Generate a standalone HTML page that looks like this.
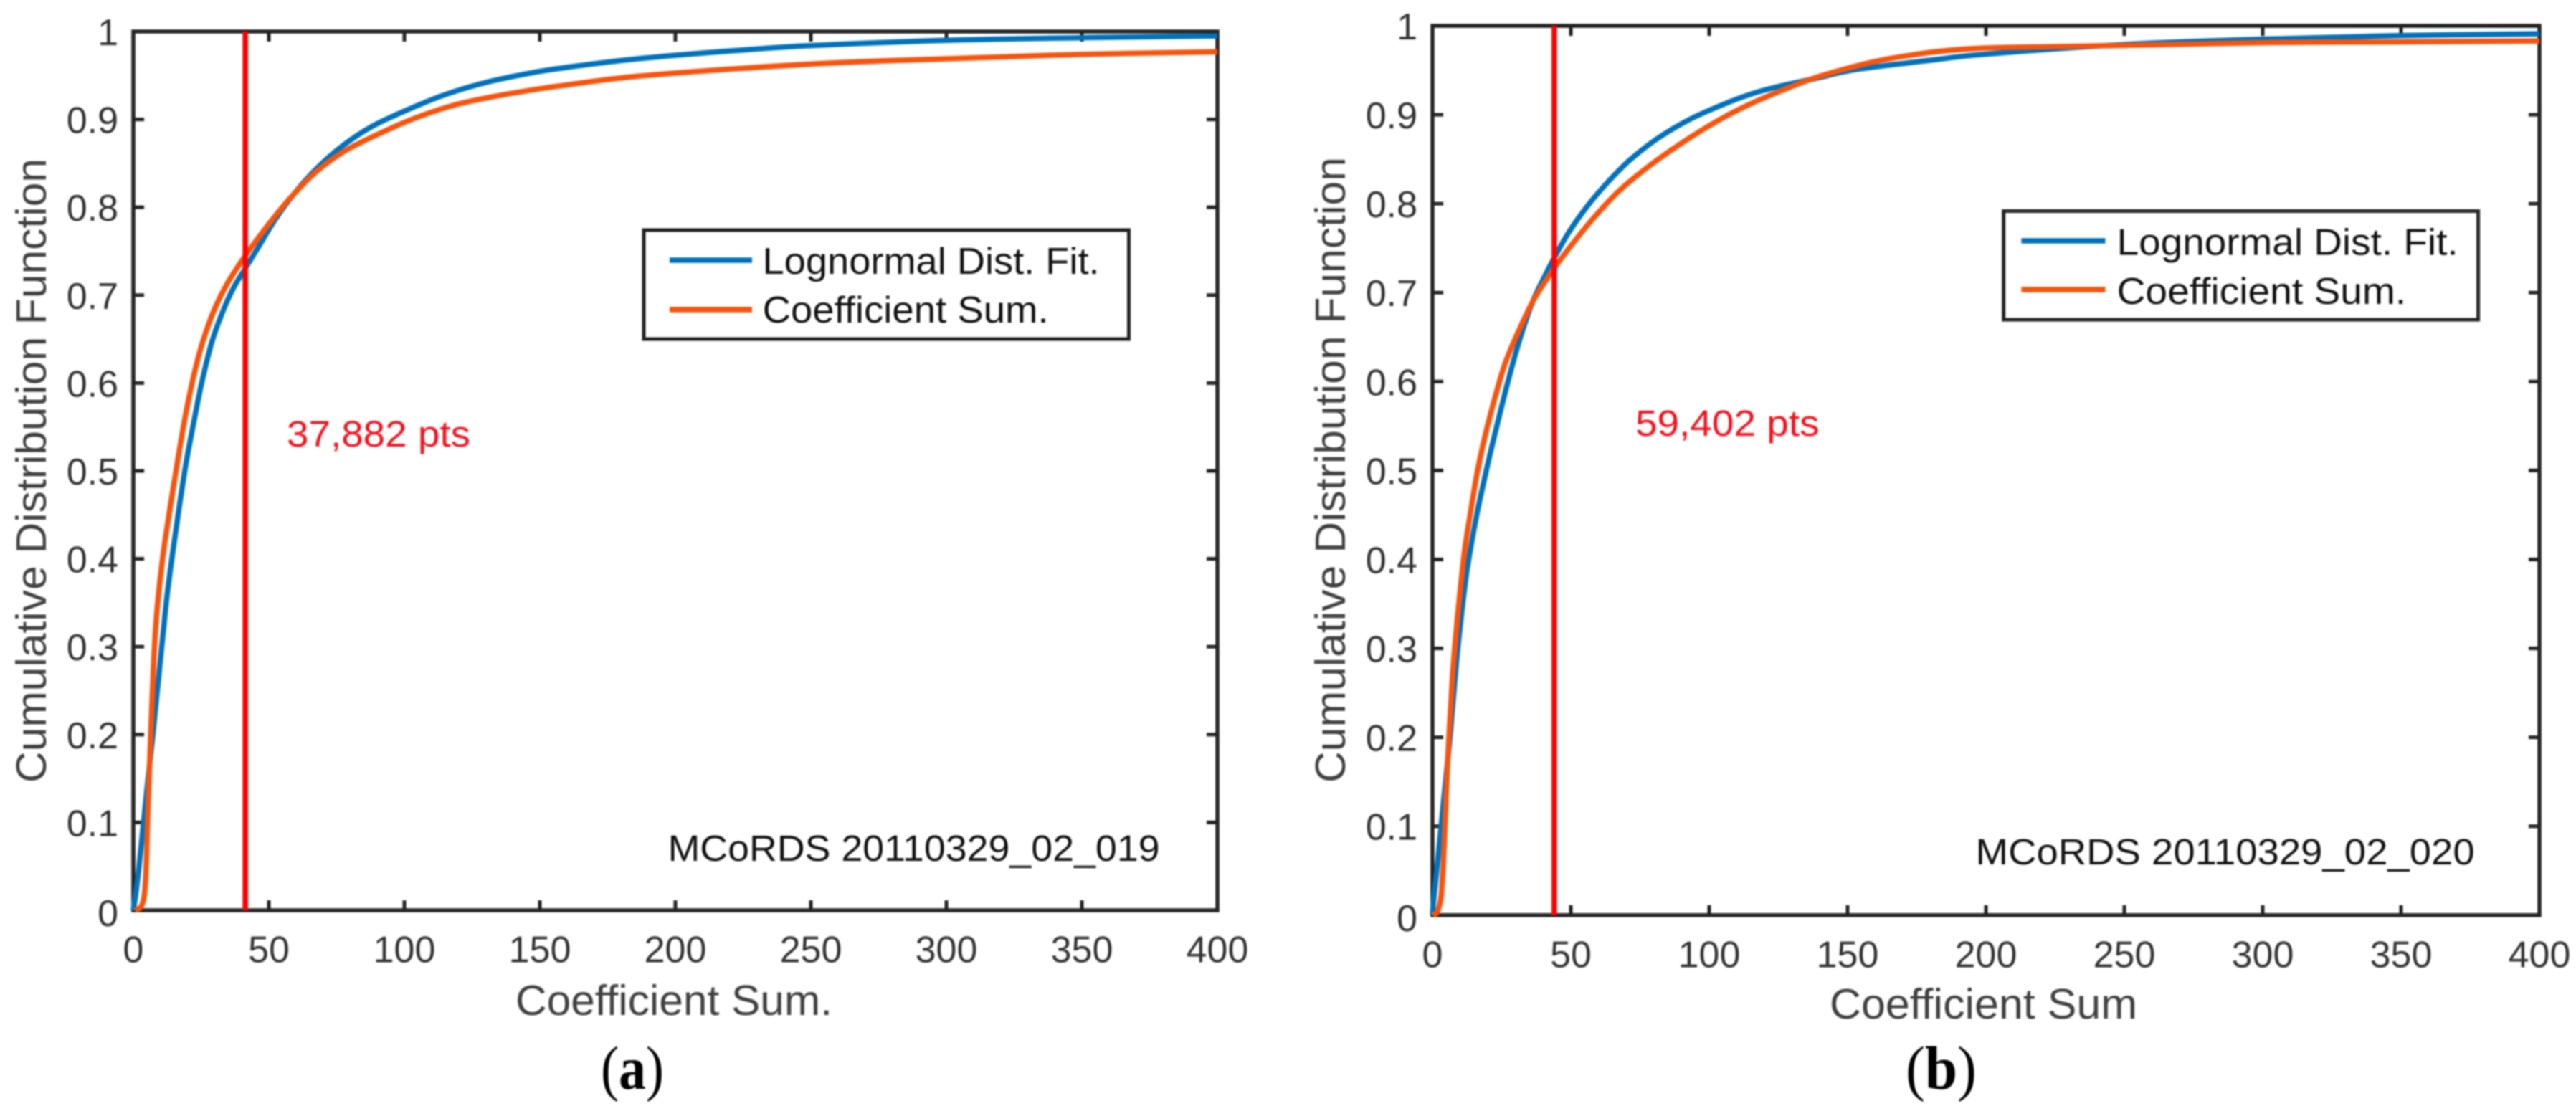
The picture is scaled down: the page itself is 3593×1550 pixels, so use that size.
<!DOCTYPE html>
<html lang="en">
<head>
<meta charset="utf-8">
<title>Cumulative distribution of coefficient sums</title>
<style>
html,body{margin:0;padding:0;background:#fff;width:3593px;height:1550px;overflow:hidden}
svg{display:block;filter:blur(1px)}
text{font-family:"Liberation Sans",sans-serif}
.tick{font-size:52px;fill:#333}
.title{font-size:59px;fill:#404040}
.leg{font-size:52px;fill:#111}
.note{font-size:51px;fill:#111}
.pts{font-size:51px;fill:#f5101c}
.cap{font-family:"Liberation Serif",serif;font-size:86px;fill:#000}
</style>
</head>
<body>
<svg id="figure" xmlns="http://www.w3.org/2000/svg" width="3593" height="1550" viewBox="0 0 3593 1550">
  <defs>
    <clipPath id="clip-a"><rect x="0" y="0" width="1741" height="1550"/></clipPath>
  </defs>
  <rect width="3593" height="1550" fill="#fff"/>

  <g id="panel-a">
    <rect x="186" y="44" width="1512" height="1226" fill="none" stroke="#222" stroke-width="5.5"/>
    <g id="ticks-a" clip-path="url(#clip-a)"></g>
    <text class="title" transform="translate(64,1092) rotate(-90)" textLength="871" lengthAdjust="spacingAndGlyphs">Cumulative Distribution Function</text>
    <text class="title" x="719" y="1416" textLength="442" lengthAdjust="spacingAndGlyphs">Coefficient Sum.</text>
    <g id="marks-a"></g>
    <text class="pts" x="400" y="623" textLength="256" lengthAdjust="spacingAndGlyphs">37,882 pts</text>
    <text class="note" x="931.6" y="1201" textLength="686" lengthAdjust="spacingAndGlyphs">MCoRDS 20110329_02_019</text>
    <g>
      <rect x="898" y="321" width="676.5" height="152" fill="#fff" stroke="#222" stroke-width="5"/>
      <line x1="934" y1="363" x2="1049" y2="363" stroke="#0072BD" stroke-width="7.5"/>
      <text class="leg" x="1063.6" y="382" textLength="470" lengthAdjust="spacingAndGlyphs">Lognormal Dist. Fit.</text>
      <line x1="934" y1="432" x2="1049" y2="432" stroke="#F9530C" stroke-width="7.5"/>
      <text class="leg" x="1063.6" y="450" textLength="399" lengthAdjust="spacingAndGlyphs">Coefficient Sum.</text>
    </g>
    <text class="cap" x="838" y="1519" textLength="88" lengthAdjust="spacingAndGlyphs">(<tspan font-weight="bold">a</tspan>)</text>
  </g>

  <g id="panel-b">
    <rect x="1998" y="36" width="1544" height="1240.8" fill="none" stroke="#222" stroke-width="5.5"/>
    <g id="ticks-b"></g>
    <text class="title" transform="translate(1876,1092) rotate(-90)" textLength="873" lengthAdjust="spacingAndGlyphs">Cumulative Distribution Function</text>
    <text class="title" x="2552" y="1421" textLength="429" lengthAdjust="spacingAndGlyphs">Coefficient Sum</text>
    <g id="marks-b"></g>
    <text class="pts" x="2281" y="608" textLength="256.6" lengthAdjust="spacingAndGlyphs">59,402 pts</text>
    <text class="note" x="2755.7" y="1206" textLength="696" lengthAdjust="spacingAndGlyphs">MCoRDS 20110329_02_020</text>
    <g>
      <rect x="2794.7" y="294.5" width="661.9" height="151.5" fill="#fff" stroke="#222" stroke-width="5"/>
      <line x1="2819.4" y1="336" x2="2936.5" y2="336" stroke="#0072BD" stroke-width="7.5"/>
      <text class="leg" x="2952.6" y="355.7" textLength="476" lengthAdjust="spacingAndGlyphs">Lognormal Dist. Fit.</text>
      <line x1="2819.4" y1="404" x2="2936.5" y2="404" stroke="#F9530C" stroke-width="7.5"/>
      <text class="leg" x="2952.6" y="424" textLength="403.6" lengthAdjust="spacingAndGlyphs">Coefficient Sum.</text>
    </g>
    <text class="cap" x="2658" y="1519" textLength="99" lengthAdjust="spacingAndGlyphs">(<tspan font-weight="bold">b</tspan>)</text>
  </g>
</svg>

<script>
var xTickValues = [0, 50, 100, 150, 200, 250, 300, 350, 400];
var xTickLabels = ["0", "50", "100", "150", "200", "250", "300", "350", "400"];
var yTickValues = [0, 0.1, 0.2, 0.3, 0.4, 0.5, 0.6, 0.7, 0.8, 0.9, 1];
var yTickLabels = ["0", "0.1", "0.2", "0.3", "0.4", "0.5", "0.6", "0.7", "0.8", "0.9", "1"];

var lognormalXA = [0, 1.06, 2.1, 3.26, 4.6, 6.17, 7.2, 9.17, 11.9, 13.2, 14.7, 16.5, 18.7, 20.5, 22.7, 25.2, 28.8, 32.8, 36.9, 41.4, 46, 52.1, 59.2, 67.3, 76.4, 87.5, 99.7, 114.9, 130, 145.2, 157, 180, 200, 225, 250, 300, 350, 400];
var lognormalYA = [0, 0.023, 0.05, 0.085, 0.125, 0.171, 0.2, 0.26, 0.343, 0.377, 0.411, 0.45, 0.495, 0.527, 0.562, 0.6, 0.645, 0.68, 0.708, 0.731, 0.754, 0.785, 0.815, 0.843, 0.868, 0.891, 0.909, 0.928, 0.942, 0.952, 0.958, 0.967, 0.973, 0.979, 0.984, 0.99, 0.993, 0.995];
var coefficientXA = [0.6, 2.82, 3.97, 4.6, 5.03, 5.47, 6.17, 6.97, 7.67, 8.55, 9.7, 11.2, 12.8, 14, 15.6, 17.6, 19.7, 22.7, 25.7, 29.8, 34.8, 40.9, 47, 53.1, 59.2, 67.3, 77.4, 89.5, 102.7, 116.9, 128, 142.2, 157, 189, 249.9, 300, 350, 400];
var coefficientYA = [0, 0.004, 0.016, 0.04, 0.08, 0.125, 0.18, 0.245, 0.293, 0.335, 0.372, 0.41, 0.443, 0.467, 0.498, 0.535, 0.571, 0.614, 0.648, 0.683, 0.714, 0.743, 0.769, 0.793, 0.815, 0.84, 0.863, 0.882, 0.9, 0.915, 0.923, 0.931, 0.938, 0.95, 0.963, 0.969, 0.974, 0.977];
var thresholdA = [41.3];

var lognormalXB = [0, 0.52, 1.55, 2.67, 3.97, 5.5, 6.56, 7.86, 9.15, 10.7, 12.35, 14.2, 16.5, 19.1, 21.3, 24.2, 27.7, 31.6, 36.1, 40.5, 44.5, 49.5, 56.4, 63.3, 71.3, 81.2, 93.1, 107, 116.9, 126.8, 138.7, 153.3, 182, 199.4, 250, 300, 350, 400];
var lognormalYB = [0, 0.02, 0.05, 0.085, 0.127, 0.174, 0.208, 0.256, 0.3, 0.344, 0.385, 0.42, 0.458, 0.495, 0.525, 0.562, 0.605, 0.648, 0.689, 0.718, 0.742, 0.769, 0.799, 0.824, 0.849, 0.873, 0.895, 0.914, 0.925, 0.933, 0.941, 0.951, 0.962, 0.968, 0.979, 0.985, 0.989, 0.991];
var coefficientXB = [0.1, 1.8, 3.1, 3.97, 4.66, 5.5, 6.4, 7.4, 8.7, 10.2, 11.7, 13.7, 16, 18.7, 21.7, 26.2, 31.6, 36.6, 41.5, 45.5, 52.4, 59.4, 67.3, 77.3, 87.1, 97, 107, 116.9, 126.8, 138.7, 153.3, 165, 182.3, 199.4, 225, 250, 300, 350, 400];
var coefficientYB = [0, 0.004, 0.021, 0.062, 0.113, 0.174, 0.225, 0.276, 0.324, 0.371, 0.412, 0.452, 0.495, 0.535, 0.572, 0.62, 0.66, 0.692, 0.716, 0.734, 0.762, 0.788, 0.814, 0.84, 0.862, 0.882, 0.9, 0.915, 0.928, 0.942, 0.955, 0.963, 0.971, 0.975, 0.9765, 0.978, 0.981, 0.982, 0.983];
var thresholdB = [44];

var SVG_NS = "http://www.w3.org/2000/svg";

function makeScale(d0, d1, p0, p1) {
  return function (v) { return p0 + (v - d0) * (p1 - p0) / (d1 - d0); };
}

function smoothPath(xs, ys, sx, sy) {
  var pts = [];
  for (var i = 0; i < xs.length; i++) pts.push([sx(xs[i]), sy(ys[i])]);
  var d = "M" + pts[0][0].toFixed(2) + " " + pts[0][1].toFixed(2);
  for (var j = 0; j < pts.length - 1; j++) {
    var p0 = pts[Math.max(j - 1, 0)], p1 = pts[j], p2 = pts[j + 1], p3 = pts[Math.min(j + 2, pts.length - 1)];
    var c1x = p1[0] + (p2[0] - p0[0]) / 6, c1y = p1[1] + (p2[1] - p0[1]) / 6;
    var c2x = p2[0] - (p3[0] - p1[0]) / 6, c2y = p2[1] - (p3[1] - p1[1]) / 6;
    d += "C" + c1x.toFixed(2) + " " + c1y.toFixed(2) + " " + c2x.toFixed(2) + " " + c2y.toFixed(2) + " " + p2[0].toFixed(2) + " " + p2[1].toFixed(2);
  }
  return d;
}

function addLine(parent, x1, y1, x2, y2, color, width) {
  var el = document.createElementNS(SVG_NS, "line");
  el.setAttribute("x1", x1);
  el.setAttribute("y1", y1);
  el.setAttribute("x2", x2);
  el.setAttribute("y2", y2);
  el.setAttribute("stroke", color);
  el.setAttribute("stroke-width", width);
  parent.appendChild(el);
  return el;
}

function drawTicks(suffix, sx, sy, box) {
  var group = document.getElementById("ticks-" + suffix);
  var lenX = 14, lenY = 15;
  xTickValues.forEach(function (v, i) {
    var x = sx(v);
    if (i > 0 && i < xTickValues.length - 1) {
      var bottomTick = addLine(group, x, box.bottom, x, box.bottom - lenX, "#222", 5);
      
      
      var topTick = addLine(group, x, box.top, x, box.top + lenX, "#222", 5);
      
      
    }
    var label = document.createElementNS(SVG_NS, "text");
    label.setAttribute("class", "tick");
    label.setAttribute("x", x);
    label.setAttribute("y", box.xLabelY);
    label.setAttribute("text-anchor", "middle");
    
    
    label.textContent = xTickLabels[i];
    group.appendChild(label);
  });
  yTickValues.forEach(function (v, i) {
    var y = sy(v);
    if (i > 0 && i < yTickValues.length - 1) {
      var leftTick = addLine(group, box.left, y, box.left + lenY, y, "#222", 5);
      
      
      var rightTick = addLine(group, box.right, y, box.right - lenY, y, "#222", 5);
      
      
    }
    var label = document.createElementNS(SVG_NS, "text");
    label.setAttribute("class", "tick");
    label.setAttribute("x", box.yLabelX);
    label.setAttribute("y", y + (i === 0 ? 22 : 19));
    label.setAttribute("text-anchor", "end");
    
    
    label.textContent = yTickLabels[i];
    group.appendChild(label);
  });
}

function drawSeries(group, xs, ys, sx, sy, color) {
  var path = document.createElementNS(SVG_NS, "path");
  path.setAttribute("d", smoothPath(xs, ys, sx, sy));
  path.setAttribute("fill", "none");
  path.setAttribute("stroke", color);
  path.setAttribute("stroke-width", "7.5");
  path.setAttribute("stroke-linejoin", "round");
  group.appendChild(path);
  return path;
}

function drawPanel(suffix, box, blueX, blueY, orangeX, orangeY, threshold) {
  var sx = makeScale(0, 400, box.left, box.right);
  var sy = makeScale(0, 1, box.bottom, box.top);
  drawTicks(suffix, sx, sy, box);
  var marks = document.getElementById("marks-" + suffix);
  var blue = drawSeries(marks, blueX, blueY, sx, sy, "#0072BD");
  
  
  var orange = drawSeries(marks, orangeX, orangeY, sx, sy, "#F9530C");
  
  
  var marker = addLine(marks, sx(threshold[0]), box.top, sx(threshold[0]), box.bottom, "#FF0000", 7.5);
  
  
}

drawPanel("a", { left: 186, right: 1698, top: 44, bottom: 1270, yLabelX: 165, xLabelY: 1342.5 },
  lognormalXA, lognormalYA, coefficientXA, coefficientYA, thresholdA);
drawPanel("b", { left: 1998, right: 3542, top: 36, bottom: 1276.8, yLabelX: 1977, xLabelY: 1349.7 },
  lognormalXB, lognormalYB, coefficientXB, coefficientYB, thresholdB);
</script>
</body>
</html>
